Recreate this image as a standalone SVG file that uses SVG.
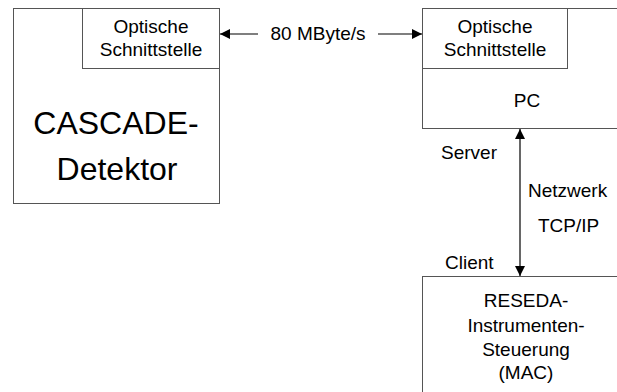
<svg xmlns="http://www.w3.org/2000/svg" width="617" height="392" viewBox="0 0 617 392">
<style>
.box{fill:#fff;stroke:#555;stroke-width:1}
.t{font-family:"Liberation Sans",Arial,sans-serif;font-size:19px;fill:#000}
.m{text-anchor:middle}
.big{font-size:32px}
.ln{stroke:#000;stroke-width:1.2;fill:none}
</style>
<defs>
<marker id="ah" viewBox="0 0 10 10" refX="10" refY="5" markerWidth="10" markerHeight="10" markerUnits="userSpaceOnUse" orient="auto-start-reverse">
<path d="M0,0 L10,5 L0,10 z" fill="#000"/>
</marker>
</defs>
<rect width="617" height="392" fill="#fff"/>
<g id="cascade">
<rect class="box" x="13.5" y="8.5" width="206" height="195"/>
<text class="t big m" x="116" y="134">CASCADE-</text>
<text class="t big m" x="117" y="180">Detektor</text>
</g>
<g id="opt1">
<rect class="box" x="82.5" y="8.5" width="137" height="60"/>
<text class="t m" x="151" y="33">Optische</text>
<text class="t m" x="151" y="56">Schnittstelle</text>
</g>
<g id="pc">
<rect class="box" x="422.5" y="8.5" width="200" height="120"/>
<text class="t m" x="527" y="107">PC</text>
</g>
<g id="opt2">
<rect class="box" x="422.5" y="8.5" width="145" height="60"/>
<text class="t m" x="495" y="33">Optische</text>
<text class="t m" x="495" y="56">Schnittstelle</text>
</g>
<g id="reseda">
<rect class="box" x="422.5" y="276.5" width="200" height="130"/>
<text class="t m" x="526" y="307">RESEDA-</text>
<text class="t m" x="526" y="332">Instrumenten-</text>
<text class="t m" x="526" y="356">Steuerung</text>
<text class="t m" x="526" y="379">(MAC)</text>
</g>
<g id="connectors">
<line class="ln" x1="258" y1="34" x2="220" y2="34" marker-end="url(#ah)"/>
<line class="ln" x1="378" y1="34" x2="422" y2="34" marker-end="url(#ah)"/>
<line class="ln" x1="520" y1="129" x2="520" y2="276" marker-start="url(#ah)" marker-end="url(#ah)"/>
</g>
<g id="labels">
<text class="t m" x="318" y="40">80 MByte/s</text>
<text class="t" x="441" y="159">Server</text>
<text class="t" x="528" y="197">Netzwerk</text>
<text class="t" x="538" y="232">TCP/IP</text>
<text class="t" x="445" y="269">Client</text>
</g>
</svg>
